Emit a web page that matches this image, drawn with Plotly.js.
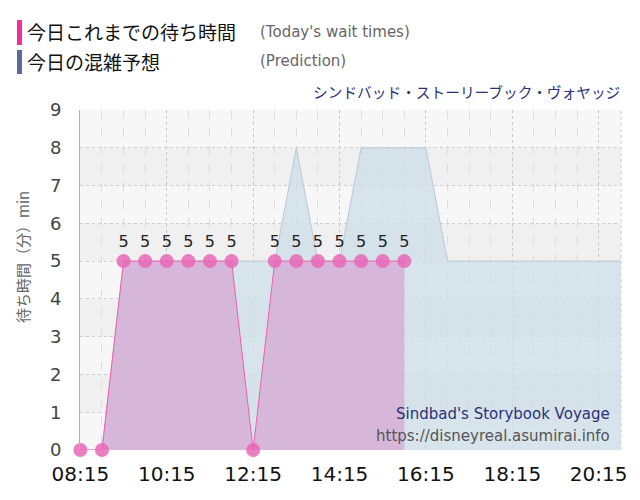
<!DOCTYPE html>
<html>
<head>
<meta charset="utf-8">
<script src="https://cdn.plot.ly/plotly-3.0.1.min.js"></script>
<style>
html,body{margin:0;padding:0;background:#fff;}
#chart{width:640px;height:500px;}
</style>
</head>
<body>
<div id="chart"></div>
<script>
// ---- data ----
var actualTimes = ['08:15','08:45','09:15','09:45','10:15','10:45','11:15','11:45','12:15','12:45','13:15','13:45','14:15','14:45','15:15','15:45'];
var actualWait  = [0,0,5,5,5,5,5,5,0,5,5,5,5,5,5,5];

var predTimes = ['08:15','08:45','09:15','09:45','10:15','10:45','11:15','11:45','12:15','12:45','13:15','13:45','14:15','14:45','15:15','15:45','16:15','16:45','17:15','17:45','18:15','18:45','19:15','19:45','20:15','20:45','21:00'];
var predWait  = [0,0,5,5,5,5,5,5,5,5,8,5,5,8,8,8,8,5,5,5,5,5,5,5,5,5,5];

var yTicks = [0,1,2,3,4,5,6,7,8,9];
var rideJa = 'シンドバッド・ストーリーブック・ヴォヤッジ';
var rideEn = "Sindbad's Storybook Voyage";
var siteUrl = 'https://disneyreal.asumirai.info';
var legendActualJa = '今日これまでの待ち時間';
var legendActualEn = "(Today's wait times)";
var legendPredJa = '今日の混雑予想';
var legendPredEn = '(Prediction)';
var yTitle = '待ち時間（分）min';

var day = '2024-01-01 ';
function toDate(arr){ return arr.map(function(t){ return day + t; }); }

var FONT = 'DejaVu Sans, Verdana, Noto Sans CJK JP, sans-serif';
var JFONT = 'Noto Sans CJK JP, DejaVu Sans, sans-serif';

var pred = {
  x: toDate(predTimes), y: predWait, type: 'scatter', mode: 'lines',
  line: {color: '#b9c9d5', width: 1},
  fill: 'tozeroy', fillcolor: 'rgba(208,222,232,0.8)',
  hoverinfo: 'skip', showlegend: false
};
var actual = {
  x: toDate(actualTimes), y: actualWait, type: 'scatter', mode: 'lines+markers+text',
  line: {color: '#ee5fae', width: 1},
  marker: {color: 'rgba(232,105,182,0.85)', size: 14},
  fill: 'tozeroy', fillcolor: 'rgba(214,170,212,0.78)',
  text: actualWait.map(function(v){ return v > 0 ? String(v) : ''; }),
  textposition: 'top center',
  textfont: {family: FONT, size: 16, color: '#222'},
  cliponaxis: false, showlegend: false
};

var shapes = [];
[[1,2],[3,4],[5,6],[7,8]].forEach(function(b){
  shapes.push({type:'rect', xref:'paper', yref:'y', x0:0, x1:1, y0:b[0], y1:b[1],
    fillcolor:'#f0f0f0', line:{width:0}, layer:'below'});
});
shapes.push({type:'line', xref:'paper', yref:'paper', x0:1, x1:1, y0:0, y1:1,
  line:{color:'#cccccc', width:1, dash:'dot'}, layer:'below'});
// legend bars
var W = 541, H = 340;
function px(x){ return (x - 80) / W; }
function py(y){ return (450 - y) / H; }
shapes.push({type:'rect', xref:'paper', yref:'paper', x0:px(17), x1:px(22), y0:py(45), y1:py(20),
  fillcolor:'#f0309a', line:{width:0}});
shapes.push({type:'rect', xref:'paper', yref:'paper', x0:px(17), x1:px(22), y0:py(74), y1:py(50),
  fillcolor:'#5d6a9c', line:{width:0}});

var annotations = [
  {xref:'paper', yref:'paper', x:px(25), y:py(32), xanchor:'left', yanchor:'middle', showarrow:false,
   text: legendActualJa, font:{family:JFONT, size:19, color:'#111'}},
  {xref:'paper', yref:'paper', x:px(258), y:py(32), xanchor:'left', yanchor:'middle', showarrow:false,
   text: legendActualEn, font:{family:FONT, size:15, color:'#666'}},
  {xref:'paper', yref:'paper', x:px(25), y:py(61), xanchor:'left', yanchor:'middle', showarrow:false,
   text: legendPredJa, font:{family:JFONT, size:19, color:'#111'}},
  {xref:'paper', yref:'paper', x:px(258), y:py(61), xanchor:'left', yanchor:'middle', showarrow:false,
   text: legendPredEn, font:{family:FONT, size:15, color:'#666'}},
  {xref:'paper', yref:'paper', x:px(622), y:py(92), xanchor:'right', yanchor:'middle', showarrow:false,
   text: rideJa, font:{family:JFONT, size:14.7, color:'#2b3178'}},
  {xref:'paper', yref:'paper', x:px(612), y:py(414), xanchor:'right', yanchor:'middle', showarrow:false,
   text: rideEn, font:{family:FONT, size:15, color:'#2b3178'}},
  {xref:'paper', yref:'paper', x:px(612), y:py(436), xanchor:'right', yanchor:'middle', showarrow:false,
   text: siteUrl, font:{family:FONT, size:15, color:'#555'}},
  {xref:'paper', yref:'paper', x:px(22), y:py(257), xanchor:'center', yanchor:'middle', showarrow:false,
   textangle:-90, text: yTitle, font:{family:JFONT, size:15, color:'#666'}}
];

var layout = {
  width: 640, height: 500,
  margin: {l:80, r:19, t:110, b:50, pad:0},
  paper_bgcolor: '#ffffff', plot_bgcolor: '#f7f7f7',
  font: {family: FONT},
  showlegend: false,
  xaxis: {
    type: 'date',
    range: [day + '08:14:30', day + '20:46'],
    tick0: day + '08:15', dtick: 2*60*60*1000,
    tickformat: '%H:%M',
    tickfont: {family: FONT, size: 20, color: '#111'},
    ticks: '', ticklabelstandoff: 10,
    showgrid: true, gridcolor: '#c8c8c8', griddash: 'dot', gridwidth: 1,
    minor: {dtick: 30*60*1000, tick0: day + '08:15', showgrid: true, gridcolor: '#dddddd', griddash: 'dash', gridwidth: 1},
    zeroline: false, showline: false, fixedrange: true
  },
  yaxis: {
    range: [0, 9],
    tickvals: yTicks,
    tickfont: {family: FONT, size: 18, color: '#444'},
    ticks: '', ticklabelstandoff: 14,
    showgrid: true, gridcolor: '#cfcfcf', griddash: 'dot', gridwidth: 1,
    zeroline: false, showline: true, linecolor: '#b4adc4', linewidth: 1,
    fixedrange: true
  },
  shapes: shapes,
  annotations: annotations
};

Plotly.newPlot('chart', [pred, actual], layout, {displayModeBar: false, staticPlot: true});
</script>
</body>
</html>
